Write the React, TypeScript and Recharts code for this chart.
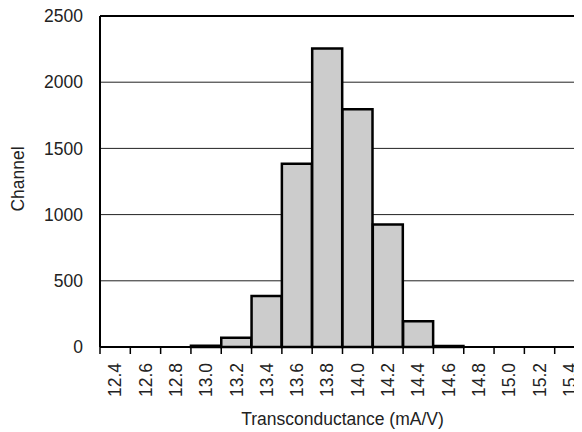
import React from 'react';
import { BarChart, Bar, XAxis, YAxis, CartesianGrid, ReferenceLine, Label } from 'recharts';

const bins = ['12.4', '12.6', '12.8', '13.0', '13.2', '13.4', '13.6', '13.8', '14.0', '14.2', '14.4', '14.6', '14.8', '15.0', '15.2', '15.4'];
const counts = [0, 0, 0, 10, 70, 385, 1385, 2255, 1795, 925, 195, 8, 0, 0, 0, 0];
const yTicks = [0, 500, 1000, 1500, 2000, 2500];

const data = bins.map((b, i) => ({ bin: b, count: counts[i] }));

const W = 600;
const H = 428;
const LEFT = 92;
const RIGHT = 23;
const BAND = (W - LEFT - RIGHT) / bins.length;
const FONT = '"Liberation Sans", Arial, Helvetica, sans-serif';
const FS = 17.5;

const BinTick = (props: any) => {
  const { x, y, payload } = props;
  const ty = y + 16;
  return (
    <g>
      <line x1={x - BAND / 2} x2={x - BAND / 2} y1={y} y2={y + 7} stroke="#000" strokeWidth={1.5} />
      {payload.index === bins.length - 1 && (
        <line x1={x + BAND / 2} x2={x + BAND / 2} y1={y} y2={y + 7} stroke="#000" strokeWidth={1.5} />
      )}
      <text
        x={x}
        y={ty}
        dy="0.35em"
        textAnchor="end"
        transform={`rotate(-90, ${x}, ${ty})`}
        fill="#222"
        fontSize={FS}
        fontFamily={FONT}
      >
        {payload.value}
      </text>
    </g>
  );
};

const App: React.FC = () => {
  return (
    <div style={{ width: 574, height: H, overflow: 'hidden', marginTop: -4 }}>
      <BarChart
        width={W}
        height={H}
        data={data}
        margin={{ top: 12, right: RIGHT, bottom: 0, left: 0 }}
        barCategoryGap={0}
        style={{ fontFamily: FONT }}
      >
        <CartesianGrid vertical={false} stroke="#222" strokeWidth={1} />
        <XAxis
          dataKey="bin"
          interval={0}
          height={85}
          tickSize={0}
          tickMargin={0}
          tickLine={false}
          axisLine={{ stroke: '#000', strokeWidth: 2 }}
          tick={<BinTick />}
        >
          <Label
            content={() => (
              <text x={LEFT + (W - LEFT - RIGHT) / 2} y={421} textAnchor="middle" fill="#222" fontSize={FS} fontFamily={FONT}>
                Transconductance (mA/V)
              </text>
            )}
          />
        </XAxis>
        <YAxis
          width={LEFT}
          domain={[0, 2500]}
          ticks={yTicks}
          interval={0}
          tickLine={false}
          tickSize={6}
          tickMargin={11}
          axisLine={{ stroke: '#000', strokeWidth: 2 }}
          tick={{ fill: '#222', fontSize: FS, fontFamily: FONT }}
        >
          <Label
            content={() => (
              <text
                x={10}
                y={175}
                dy="0.35em"
                textAnchor="middle"
                transform="rotate(-90, 10, 175)"
                fill="#222"
                fontSize={FS}
                fontFamily={FONT}
              >
                Channel
              </text>
            )}
          />
        </YAxis>
        <Bar dataKey="count" fill="#cccccc" stroke="#000" strokeWidth={2.5} isAnimationActive={false} />
        <ReferenceLine y={2500} stroke="#000" strokeWidth={2} />
      </BarChart>
    </div>
  );
};

export default App;
